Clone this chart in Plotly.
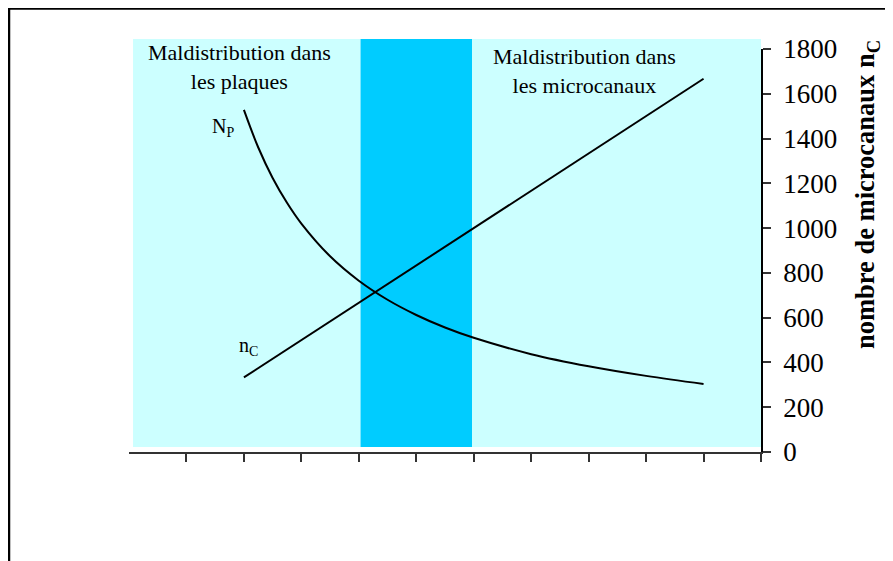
import plotly.graph_objects as go

# ---- data ----
np_x = [2, 2.25, 2.5, 2.75, 3, 3.5, 4, 4.5, 5, 5.5, 6, 7, 8, 9, 10]
np_vals = [1528, 1360, 1224, 1113, 1020, 874, 765, 680, 612, 556, 510, 437, 383, 340, 304]
nc_x = [2, 10]
nc_vals = [333, 1667]
x_ticks = [1, 2, 3, 4, 5, 6, 7, 8, 9, 10, 11]
y_ticks = [0, 200, 400, 600, 800, 1000, 1200, 1400, 1600, 1800]
zone_plaques = [0.07, 4.03]
zone_transition = [4.03, 5.97]
zone_micro = [5.97, 11]

# the page body adds an 8px offset, so the figure is drawn 8px smaller
OFF = 8
W, H = 893 - OFF, 561 - OFF
L, R, T, B = 129 - OFF, 132, 49 - OFF, 109
PW, PH = W - L - R, H - T - B
SERIF = "Liberation Serif, Times New Roman, serif"


def px_x(p):
    return (p - OFF - L) / PW


def px_y(p):
    return (H - B - (p - OFF)) / PH


fig = go.Figure()
fig.add_trace(go.Scatter(x=np_x, y=np_vals, mode="lines", line=dict(color="black", width=2, shape="spline"),
                         showlegend=False, hoverinfo="skip"))
fig.add_trace(go.Scatter(x=nc_x, y=nc_vals, mode="lines", line=dict(color="black", width=2),
                         showlegend=False, hoverinfo="skip"))

shapes = []
y_bot = px_y(447)
y_top = px_y(39)
for (x0, x1), col in [(zone_plaques, "#CCFFFF"), (zone_micro, "#CCFFFF"), (zone_transition, "#00CCFF")]:
    shapes.append(dict(type="rect", xref="x", yref="paper", x0=x0, x1=x1, y0=y_bot, y1=y_top,
                       fillcolor=col, line=dict(width=0), layer="below"))
# outer frame
shapes.append(dict(type="line", xref="paper", yref="paper", x0=px_x(8), x1=px_x(900), y0=px_y(8.5), y1=px_y(8.5),
                   line=dict(color="black", width=2.5)))
shapes.append(dict(type="line", xref="paper", yref="paper", x0=px_x(9), x1=px_x(9), y0=px_y(7.5), y1=px_y(570),
                   line=dict(color="black", width=2.5)))

ann_font = dict(family=SERIF, size=22, color="black")
annotations = [
    dict(text="Maldistribution dans<br>les plaques", x=px_x(239), y=px_y(67), font=ann_font),
    dict(text="Maldistribution dans<br>les microcanaux", x=px_x(584), y=px_y(71), font=ann_font),
    dict(text="N<sub>P</sub>", x=px_x(223), y=px_y(128), font=dict(family=SERIF, size=20, color="black")),
    dict(text="n<sub>C</sub>", x=px_x(248), y=px_y(346), font=dict(family=SERIF, size=20, color="black")),
    dict(text="<b>nombre de microcanaux n<sub>C</sub></b>", x=px_x(867), y=px_y(195), textangle=-90,
         font=dict(family=SERIF, size=26.5, color="black")),
]
for a in annotations:
    a.update(xref="paper", yref="paper", showarrow=False, xanchor="center", yanchor="middle", align="center")

fig.update_layout(
    width=W, height=H, autosize=False,
    margin=dict(l=L, r=R, t=T, b=B, pad=0),
    paper_bgcolor="white", plot_bgcolor="white",
    shapes=shapes, annotations=annotations,
    xaxis=dict(range=[0, 11], tickvals=x_ticks, ticks="outside", ticklen=8, tickwidth=1.5, tickcolor="#333",
               showticklabels=False, showline=True, linecolor="#333", linewidth=1.5,
               showgrid=False, zeroline=False, fixedrange=True),
    yaxis=dict(range=[0, 1800], tickvals=y_ticks, side="right", ticks="outside", ticklen=8, tickwidth=1.5,
               tickcolor="#333", showline=True, linecolor="black", linewidth=1.5, showgrid=False, zeroline=False,
               tickfont=dict(family=SERIF, size=27, color="black"), ticklabelstandoff=7, fixedrange=True),
)

fig.write_html("out.html")
